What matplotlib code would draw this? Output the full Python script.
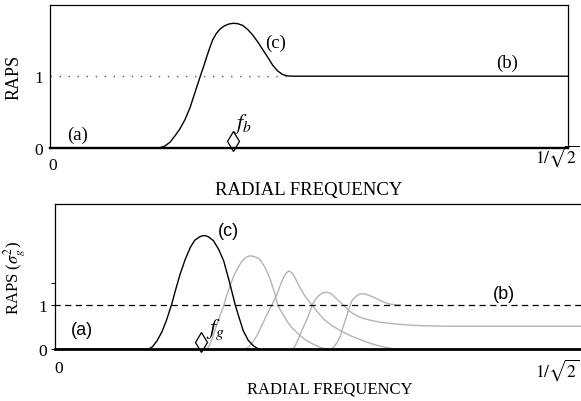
import numpy as np
import matplotlib
matplotlib.use("Agg")
import matplotlib.pyplot as plt

plt.rcParams['font.family'] = ['Liberation Serif', 'DejaVu Serif']
plt.rcParams['mathtext.fontset'] = 'stix'

XMAX = 1 / np.sqrt(2)

# top panel: curve (a) -> (c) -> (b)
top_f = [0.0, 0.150, 0.157, 0.164, 0.170, 0.177, 0.184, 0.191, 0.198, 0.205, 0.210,
         0.214, 0.218, 0.222, 0.227, 0.232, 0.238, 0.244, 0.250, 0.256, 0.263,
         0.270, 0.277, 0.284, 0.291, 0.298, 0.304, 0.311, 0.318, 0.325, 0.332, XMAX]
top_v = [0.0, 0.0, 0.025, 0.08, 0.16, 0.26, 0.39, 0.56, 0.78, 1.0, 1.15,
         1.28, 1.40, 1.51, 1.60, 1.66, 1.705, 1.73, 1.74, 1.735, 1.71,
         1.65, 1.57, 1.47, 1.36, 1.25, 1.15, 1.07, 1.02, 1.003, 1.0, 1.0]

# bottom panel: black curve (c)
blk_f = [0.0, 0.128, 0.134, 0.140, 0.147, 0.153, 0.160, 0.166, 0.172, 0.179, 0.186,
         0.192, 0.199, 0.203, 0.207, 0.211, 0.218, 0.225, 0.232, 0.240, 0.248,
         0.254, 0.259, 0.266, 0.273, 0.278, 0.282]
blk_v = [0.0, 0.0, 0.06, 0.19, 0.40, 0.65, 1.0, 1.36, 1.70, 2.03, 2.30,
         2.46, 2.54, 2.565, 2.565, 2.54, 2.45, 2.26, 2.0, 1.52, 1.0,
         0.68, 0.42, 0.20, 0.08, 0.025, 0.0]

# grey curves, stepping towards (b)
g1_f = [0.209, 0.212, 0.216, 0.219, 0.222, 0.227, 0.232, 0.236, 0.241, 0.246, 0.252,
        0.257, 0.262, 0.268, 0.273, 0.278, 0.282, 0.289, 0.296, 0.302, 0.307,
        0.314, 0.320, 0.326, 0.333, 0.344, 0.355, 0.364, 0.374]
g1_v = [0.0, 0.08, 0.23, 0.38, 0.53, 0.76, 0.98, 1.21, 1.44, 1.66, 1.85,
        1.98, 2.07, 2.11, 2.10, 2.07, 2.03, 1.85, 1.59, 1.29, 0.98,
        0.78, 0.62, 0.49, 0.38, 0.22, 0.12, 0.05, 0.0]
g2_f = [0.262, 0.266, 0.270, 0.274, 0.278, 0.285, 0.291, 0.296, 0.301, 0.306, 0.310,
        0.314, 0.318, 0.322, 0.326, 0.331, 0.337, 0.345, 0.354, 0.362, 0.370,
        0.381, 0.393, 0.408, 0.425, 0.437, 0.448, 0.460, 0.471]
g2_v = [0.0, 0.05, 0.12, 0.21, 0.31, 0.55, 0.76, 0.92, 1.08, 1.26, 1.44,
        1.60, 1.72, 1.77, 1.73, 1.60, 1.40, 1.18, 1.0, 0.83, 0.68,
        0.54, 0.42, 0.30, 0.19, 0.12, 0.07, 0.03, 0.0]
g3_f = [0.328, 0.332, 0.337, 0.342, 0.347, 0.351, 0.354, 0.358, 0.363, 0.368, 0.374,
        0.380, 0.386, 0.391, 0.397, 0.403, 0.410, 0.417, 0.424, 0.436, 0.448,
        0.470, 0.493, 0.515, 0.54, 0.725]
g3_v = [0.0, 0.12, 0.31, 0.50, 0.68, 0.85, 1.0, 1.11, 1.21, 1.27, 1.29,
        1.26, 1.17, 1.09, 1.0, 0.90, 0.81, 0.75, 0.70, 0.65, 0.61,
        0.57, 0.54, 0.53, 0.52, 0.52]
g4_f = [0.379, 0.384, 0.388, 0.393, 0.397, 0.402, 0.405, 0.409, 0.414, 0.420, 0.427,
        0.434, 0.441, 0.448, 0.455, 0.462, 0.468, 0.475]
g4_v = [0.0, 0.05, 0.14, 0.30, 0.52, 0.76, 0.93, 1.10, 1.19, 1.25, 1.25,
        1.21, 1.16, 1.10, 1.05, 1.02, 1.005, 1.0]
grey_f = [g1_f, g2_f, g3_f, g4_f]
grey_v = [g1_v, g2_v, g3_v, g4_v]

fig = plt.figure(figsize=(5.81, 4.02), dpi=100)

# ---------- top panel ----------
ax1 = fig.add_axes([0.0861, 0.6301, 0.8921, 0.3557])
ax1.set_xlim(0, XMAX)
ax1.set_ylim(0, 2)
ax1.plot([0, 0.33], [1, 1], color='0.35', lw=1.0, ls=(0, (1, 5.5)))
ax1.plot(top_f, top_v, color='black', lw=1.0, clip_on=False)
ax1.plot([0.25], [0.09], marker='d', ms=10, mfc='white', mec='black', mew=0.9, clip_on=False)
for s in ax1.spines.values():
    s.set_linewidth(0.9)
ax1.spines['bottom'].set_linewidth(1.7)
ax1.set_xticks([])
ax1.set_yticks([0, 1])
ax1.set_yticklabels(['0', '1'])
ax1.tick_params(axis='y', length=0, pad=5, labelsize=12.5)
ax1.set_ylabel('RAPS', fontsize=13)
ax1.yaxis.set_label_coords(-0.053, 0.5)
ax1.text(0.037, 0.19, '(a)', fontsize=13.5, ha='center', va='center')
ax1.text(0.308, 1.48, '(c)', fontsize=13.5, ha='center', va='center')
ax1.text(0.623, 1.19, '(b)', fontsize=13.5, ha='center', va='center')
ax1.text(0.262, 0.34, '$f_b$', fontsize=16, ha='center', va='center')
ax1.text(0.003, -0.24, '0', fontsize=12.5, ha='center', va='center', clip_on=False)
ax1.text(0.692, -0.10, r'$1/\sqrt{2}$', fontsize=12.5, ha='center', va='center', clip_on=False)
ax1.text(0.5, -0.29, 'RADIAL FREQUENCY', fontsize=13.5, ha='center', va='center',
         transform=ax1.transAxes)

# ---------- bottom panel ----------
ax2 = fig.add_axes([0.0955, 0.1286, 0.9045, 0.3614])
ax2.set_xlim(0, 0.725)
ax2.set_ylim(0, 3.28)
for f, v in zip(grey_f, grey_v):
    ax2.plot(f, v, color='#b4b4b4', lw=1.0)
ax2.plot(blk_f, blk_v, color='black', lw=1.0)
ax2.plot([-0.002, 0.725], [1, 1], color='black', lw=0.9, ls=(0, (5, 3.5)), clip_on=False)
ax2.plot([0.2007], [0.17], marker='d', ms=10, mfc='white', mec='black', mew=0.9, clip_on=False)
ax2.spines['right'].set_visible(False)
ax2.spines['top'].set_linewidth(0.9)
ax2.spines['left'].set_linewidth(0.9)
ax2.spines['bottom'].set_linewidth(2.0)
ax2.set_xticks([])
ax2.set_yticks([0, 1, 1.5])
ax2.set_yticklabels(['0', '1', ''])
ax2.tick_params(axis='y', length=3, width=0.7, pad=3, labelsize=12.5)
ax2.set_ylabel(r'RAPS ($\sigma_g^2$)', fontsize=12)
ax2.yaxis.set_label_coords(-0.055, 0.5)
sans = ['Liberation Sans', 'DejaVu Sans']
ax2.text(0.037, 0.44, '(a)', fontsize=13, ha='center', va='center', family=sans)
ax2.text(0.239, 2.68, '(c)', fontsize=13, ha='center', va='center', family=sans)
ax2.text(0.618, 1.27, '(b)', fontsize=13, ha='center', va='center', family=sans)
ax2.text(0.221, 0.46, '$f_g$', fontsize=16, ha='center', va='center')
ax2.text(0.004, -0.42, '0', fontsize=12.5, ha='center', va='center', clip_on=False)
ax2.text(0.6926, -0.44, r'$1/\sqrt{2}$', fontsize=12.5, ha='center', va='center', clip_on=False)
fig.text(330 / 581, 1 - 390 / 402, 'RADIAL FREQUENCY', fontsize=12, ha='center', va='center')

fig.savefig('out.png', dpi=100)
